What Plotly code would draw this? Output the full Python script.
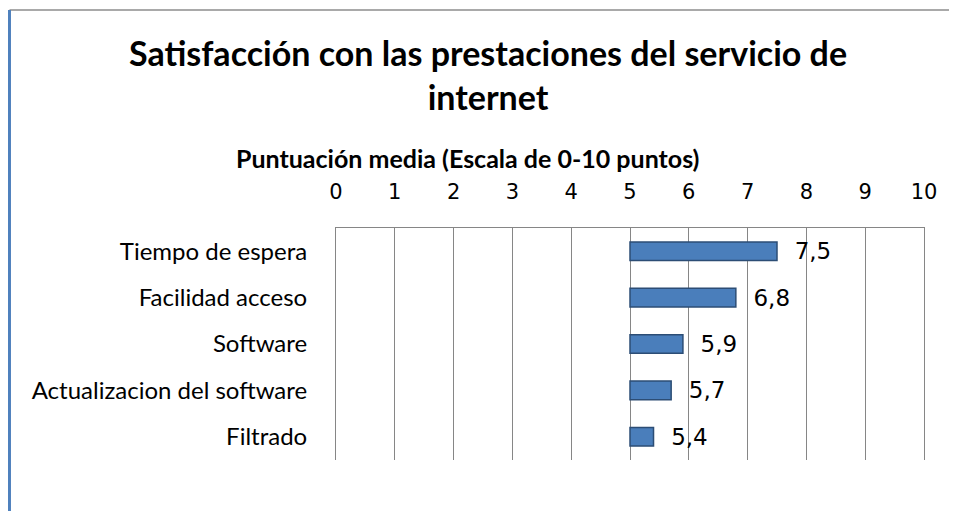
import plotly.graph_objects as go

categorias = ["Tiempo de espera", "Facilidad acceso", "Software",
              "Actualizacion del software", "Filtrado"]
puntuacion = [7.5, 6.8, 5.9, 5.7, 5.4]
base_escala = 5
ticks = list(range(0, 11))

etiquetas = ["\u00a0\u00a0" + f"{v:.1f}".replace(".", ",") for v in puntuacion]

fig = go.Figure(
    go.Bar(
        y=categorias,
        x=[v - base_escala for v in puntuacion],
        base=base_escala,
        orientation="h",
        width=0.4,
        marker={"color": "#4a7ebb", "line": {"color": "#2c4d75", "width": 1.5}},
        text=etiquetas,
        textposition="outside",
        constraintext="none",
        cliponaxis=False,
        textfont={"family": "DejaVu Sans", "size": 23, "color": "#000000"},
    )
)

fig.update_layout(
    width=957,
    height=511,
    margin={"l": 328, "r": 41, "t": 220, "b": 59},
    paper_bgcolor="white",
    plot_bgcolor="white",
    showlegend=False,
    title={
        "text": "<b>Satisfacción con las prestaciones del servicio de<br>internet</b>",
        "x": 0.5016,
        "xanchor": "center",
        "y": 0.8865,
        "yanchor": "middle",
        "font": {"family": "Lato", "size": 34, "color": "#000000"},
    },
    xaxis={
        "side": "top",
        "range": [0, 10],
        "tickvals": ticks,
        "showgrid": True,
        "gridcolor": "#868686",
        "gridwidth": 1,
        "showline": True,
        "linecolor": "#868686",
        "zeroline": False,
        "ticklabelstandoff": 20,
        "tickfont": {"family": "DejaVu Sans", "size": 21, "color": "#000000"},
    },
    yaxis={
        "autorange": "reversed",
        "showgrid": False,
        "showline": True,
        "mirror": True,
        "linecolor": "#868686",
        "ticks": "",
        "ticklabelstandoff": 23,
        "tickfont": {"family": "Lato", "size": 24, "color": "#000000"},
    },
    annotations=[
        {"text": "<b>Puntuación media (Escala de 0-10 puntos)</b>",
         "xref": "paper", "yref": "paper", "x": 0.2228, "y": 1.302,
         "xanchor": "center", "yanchor": "middle", "showarrow": False,
         "font": {"family": "Lato", "size": 25, "color": "#000000"}},
    ],
    shapes=[
        {"type": "line", "xref": "paper", "yref": "paper",
         "x0": -0.5553, "x1": 1.1, "y0": 1.94, "y1": 1.94,
         "line": {"color": "#8c8c8c", "width": 1.5}},
        {"type": "line", "xref": "paper", "yref": "paper",
         "x0": -0.5553, "x1": -0.5553, "y0": 1.94, "y1": -0.3,
         "line": {"color": "#4f81bd", "width": 3}},
    ],
)

fig.write_html("out.html")
